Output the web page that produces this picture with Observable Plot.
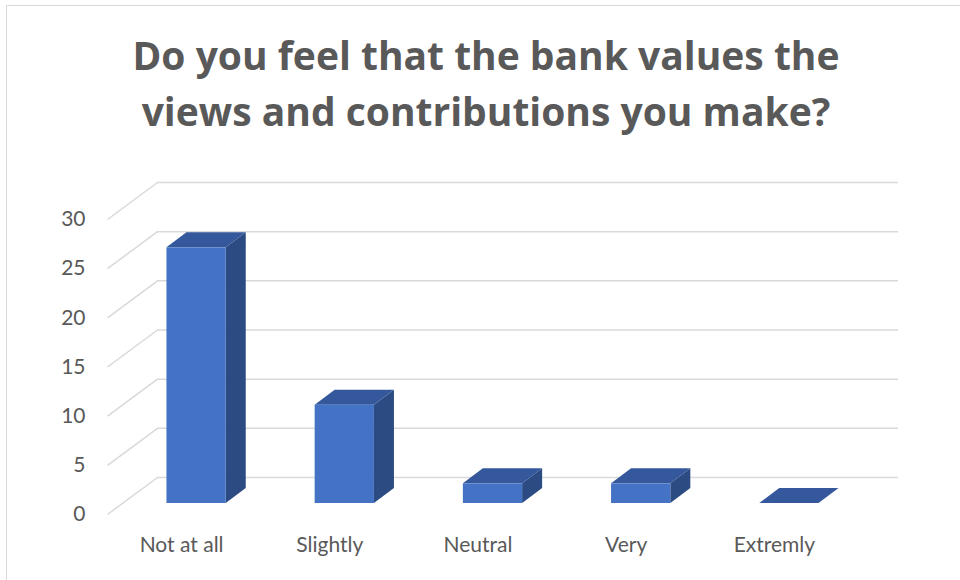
<!DOCTYPE html>
<html>
<head>
<meta charset="utf-8">
<script src="https://cdn.jsdelivr.net/npm/d3@7"></script>
<script src="https://cdn.jsdelivr.net/npm/@observablehq/plot@0.6"></script>
<style>
  html, body { margin: 0; padding: 0; background: #fff; }
  #wrap { position: relative; width: 960px; height: 580px; overflow: hidden; background: #fff; }
  #border { position: absolute; left: 6px; top: 5px; width: 1000px; height: 620px; border-left: 1.5px solid #d9d9d9; border-top: 1.5px solid #d9d9d9; }
  #title { position: absolute; left: 0; top: 27px; width: 972px; text-align: center; font-family: "Open Sans", Lato, sans-serif; font-weight: bold; font-size: 39px; line-height: 56px; color: #595959; }
  #chart { position: absolute; left: 0; top: 170px; }
  #chart svg { overflow: visible; }
</style>
</head>
<body>
<div id="wrap">
  <div id="border"></div>
  <div id="title">Do you feel that the bank values the<br>views and contributions you make?</div>
  <div id="chart"></div>
</div>
<script>
const categories = ["Not at all", "Slightly", "Neutral", "Very", "Extremly"];
const values = [26, 10, 2, 2, 0];
const yTicks = [0, 5, 10, 15, 20, 25, 30];

const W = 960, H = 410, mL = 107, mR = 112, mT = 49, mB = 66;
const kx = (W - mL - mR) / categories.length;   // px per x unit
const ky = (H - mT - mB) / 30;                  // px per y unit
const FX = 50 / kx, FY = 37 / ky;               // floor/wall depth
const BX = 20 / kx, BY = 15 / ky;               // bar depth
const HW = 0.2;                                  // bar half width

const bars = categories.map((c, i) => ({i, c, v: values[i]}));
const sideFaces = bars.flatMap(b => [
  {id: b.i, x: b.i + HW, y1: 0, y2: b.v},
  {id: b.i, x: b.i + HW + BX, y1: BY, y2: b.v + BY}
]);
const topFaces = bars.flatMap(b => [
  {id: b.i, y: b.v, x1: b.i - HW, x2: b.i + HW},
  {id: b.i, y: b.v + BY, x1: b.i - HW + BX, x2: b.i + HW + BX}
]);

const grid = "#d9d9d9";
const chart = Plot.plot({
  width: W, height: H,
  marginLeft: mL, marginRight: mR, marginTop: mT, marginBottom: mB,
  style: {fontFamily: "Lato, 'Open Sans', sans-serif", fontSize: "21px", color: "#595959", background: "transparent"},
  x: {type: "linear", domain: [-0.5, categories.length - 0.5]},
  y: {domain: [0, 30]},
  marks: [
    Plot.ruleY(yTicks, {y: d => d + FY, x1: -0.5 + FX, x2: categories.length - 0.5 + FX, stroke: grid, strokeWidth: 1.5}),
    Plot.link(yTicks, {x1: -0.5, y1: d => d, x2: -0.5 + FX, y2: d => d + FY, stroke: grid, strokeWidth: 1.5}),
    Plot.areaY(sideFaces, {x: "x", y1: "y1", y2: "y2", z: "id", fill: "#2c4b82", curve: "linear", dx: 15, dy: -11}),
    Plot.areaX(topFaces, {y: "y", x1: "x1", x2: "x2", z: "id", fill: "#34589b", curve: "linear", dx: 15, dy: -11}),
    Plot.rect(bars, {x1: d => d.i - HW, x2: d => d.i + HW, y1: 0, y2: "v", fill: "#4472c4", dx: 15, dy: -11}),
    Plot.axisY(yTicks, {tickSize: 0, tickPadding: 22, label: null, fill: "#595959", fontSize: 21}),
    Plot.axisX(d3.range(categories.length), {tickSize: 0, tickPadding: 23, label: null, tickFormat: i => categories[i], fill: "#595959", fontSize: 21})
  ]
});
document.getElementById("chart").appendChild(chart);
</script>
</body>
</html>
